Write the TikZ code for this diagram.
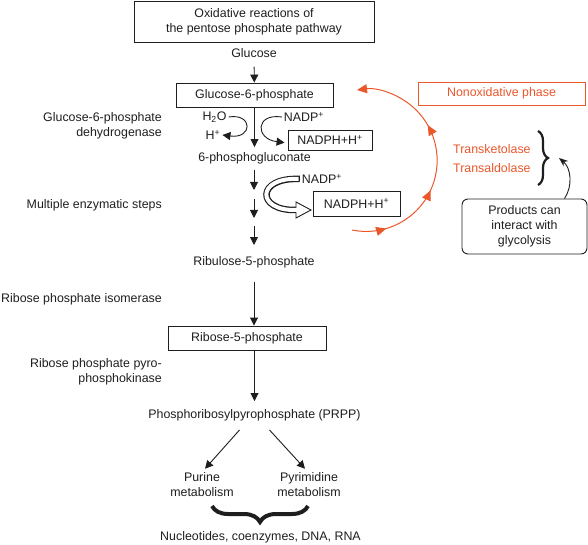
\documentclass[tikz,border=0pt]{standalone}
\usepackage{fontspec}
\setmainfont{Liberation Sans}
\usetikzlibrary{arrows.meta,decorations.markings,decorations.pathreplacing}
\definecolor{orng}{RGB}{233,87,43}
\definecolor{ink}{RGB}{30,30,30}
\begin{document}
\begin{tikzpicture}[x=1pt,y=-1pt,
  font=\fontsize{12.4}{15}\selectfont, text=ink,
  box/.style={draw=ink, line width=0.9pt, inner sep=0pt},
  txt/.style={inner sep=2pt},
  lbl/.style={anchor=east, align=right, inner sep=0pt},
  arr/.style={draw=ink, line width=0.9pt, -{Triangle[length=8pt,width=8pt]}},
  otip/.style={-{Triangle[length=10pt,width=9pt]}},
  brc/.style={draw=ink, decorate}]
\useasboundingbox (0,0) rectangle (588,545);

% main column
\node[box, minimum width=240pt, minimum height=41pt, align=center] (top) at (254,21.5) {Oxidative reactions of\\the pentose phosphate pathway};
\node[txt] (glc) at (254,53) {Glucose};
\node[box, minimum width=157pt, minimum height=24pt] (g6p) at (254.5,95) {Glucose-6-phosphate};
\node[txt] (h2o) at (214.5,117) {H\textsubscript{2}O};
\node[txt] (hp) at (213,135) {H\textsuperscript{+}};
\node[txt] (nadp1) at (304,117) {NADP\textsuperscript{+}};
\node[box, minimum width=84pt, minimum height=20pt] (nadph1) at (330,140) {NADPH+H\textsuperscript{+}};
\node[txt] (pg) at (254.5,158) {6-phosphogluconate};
\node[txt] (nadp2) at (322,179) {NADP\textsuperscript{+}};
\node[box, minimum width=87pt, minimum height=25pt] (nadph2) at (356.5,203.5) {NADPH+H\textsuperscript{+}};
\node[txt] (ru5p) at (254,262) {Ribulose-5-phosphate};
\node[box, minimum width=158pt, minimum height=24pt] (r5p) at (247,338) {Ribose-5-phosphate};
\node[txt] (prpp) at (254.5,415) {Phosphoribosylpyrophosphate (PRPP)};
\node[txt, align=center] (pur) at (202,485) {Purine\\metabolism};
\node[txt, align=center] (pyr) at (309,485) {Pyrimidine\\metabolism};
\node[txt] (nuc) at (260.5,537) {Nucleotides, coenzymes, DNA, RNA};

% left labels
\node[lbl] (l1) at (162,125.5) {Glucose-6-phosphate\\dehydrogenase};
\node[lbl] (l2) at (162,205) {Multiple enzymatic steps};
\node[lbl] (l3) at (162,299) {Ribose phosphate isomerase};
\node[lbl] (l4) at (162,371.5) {Ribose phosphate pyro-\\phosphokinase};

% right side
\node[draw=orng, text=orng, line width=0.9pt, minimum width=167pt, minimum height=23pt] (nonox) at (501.5,93.5) {Nonoxidative phase};
\node[text=orng, anchor=west, inner sep=0pt] (tk) at (453,149) {Transketolase};
\node[text=orng, anchor=west, inner sep=0pt] (ta) at (453,168) {Transaldolase};
\node[box, rounded corners=6pt, minimum width=125pt, minimum height=55pt, align=center] (prod) at (524.5,226.5) {Products can\\interact with\\glycolysis};

% coordinates
\coordinate (c1a) at (254,170); \coordinate (c1b) at (254,190);
\coordinate (c2a) at (254,199); \coordinate (c2b) at (254,218);
\coordinate (c3a) at (254,226); \coordinate (c3b) at (254,245);
\coordinate (hb) at (296,210); \coordinate (htip) at (311,210);
\coordinate (arcs) at (352,230);
\coordinate (br1) at (538,131); \coordinate (br2) at (538,185);
\coordinate (cb) at (559,158);
\coordinate (bb1) at (308,506); \coordinate (bb2) at (212,506);

% main arrows
\draw[arr, shorten <=7pt] (glc) -- (g6p);
\draw[arr, shorten >=3pt] (g6p) -- (pg);
\draw[arr] (c1a) -- (c1b);
\draw[arr] (c2a) -- (c2b);
\draw[arr] (c3a) -- (c3b);
\draw[arr, shorten <=12pt] (ru5p.south) -- (ru5p.south |- r5p.north);
\draw[arr, shorten >=6pt] (r5p.south -| prpp.north) -- (prpp.north);
\draw[arr] ([xshift=-15pt,yshift=-7pt]prpp.south) -- ([xshift=3pt,yshift=2pt]pur.north);
\draw[arr] ([xshift=15pt,yshift=-7pt]prpp.south) -- ([xshift=-4pt,yshift=2pt]pyr.north);

% small curved arrows
\draw[arr] (h2o.east) .. controls (253,113) and (253,139) .. (hp.east);
\draw[arr, shorten >=3pt] (nadp1.west) .. controls (255,113) and (255,139) .. ([yshift=-3pt]nadph1.west);

% hollow arrow
\draw[draw=ink, line width=6.5pt] (nadp2.west) .. controls (256,177) and (256,211) .. (hb);
\draw[draw=ink, fill=white, line width=0.9pt, line join=miter] ([yshift=-8pt]hb) -- (htip) -- ([yshift=8pt]hb) -- cycle;
\draw[white, line width=4pt, shorten <=1.2pt] (nadp2.west) .. controls (256,177) and (256,211) .. (hb);
\draw[white, line width=4pt] (hb) -- ([xshift=1.2pt]hb);

% orange arc
\draw[orng, line width=1pt, otip, postaction={decorate},
  decoration={markings,
    mark=at position 0.14 with {\arrow{Triangle[length=10pt,width=9pt]}},
    mark=at position 0.385 with {\arrow{Triangle[length=10pt,width=9pt]}},
    mark=at position 0.66 with {\arrow{Triangle[length=10pt,width=9pt]}}}]
  (arcs) arc[start angle=101.5, end angle=-97.4, radius=71];

% braces
\draw[brc, line width=2.2pt, decoration={brace, amplitude=10pt}] (br1) -- (br2);
\draw[brc, line width=4pt, decoration={brace, amplitude=16pt}] (bb1) -- (bb2);

% products arrow
\draw[draw=ink, line width=0.9pt, -{Stealth[length=9pt,width=7pt]}] ([xshift=40pt]prod.north) .. controls (573,186) and (571,168) .. (cb);
\end{tikzpicture}
\end{document}
